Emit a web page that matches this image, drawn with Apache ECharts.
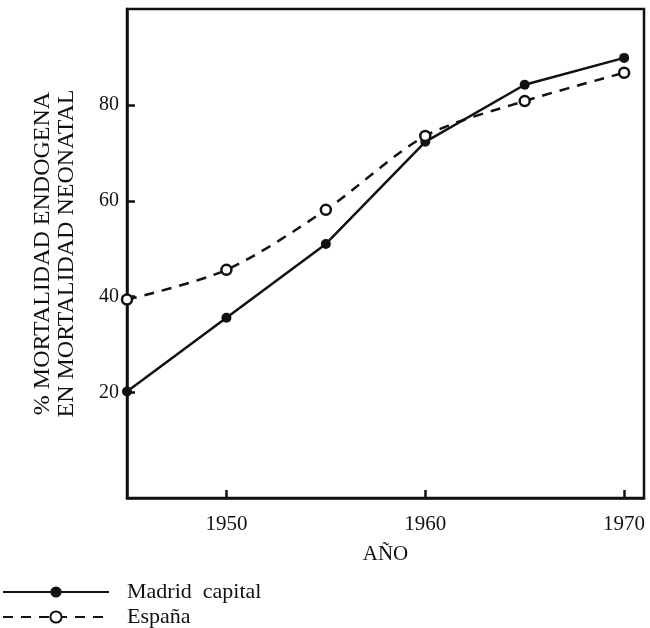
<!DOCTYPE html>
<html lang="es">
<head>
    <meta charset="UTF-8">
    <title>Mortalidad endogena</title>
    <script src="https://cdn.jsdelivr.net/npm/echarts@6.0.0/dist/echarts.min.js"></script>
    <style>
        body { margin: 0; background: #fff; }
    </style>
</head>
<body>
    <div id="main" style="width: 650px;height:628px;"></div>
    <script type="text/javascript">
        const years = [1945, 1950, 1955, 1960, 1965, 1970];
        const madrid = [20.2, 35.6, 51.0, 72.3, 84.2, 89.8];
        const espana = [39.4, 45.6, 58.1, 73.5, 80.8, 86.7];
        const xTicks = [1950, 1960, 1970];
        const yTicks = [20, 40, 60, 80];

        const font = 'Liberation Serif';
        const ink = '#111';

        // one legend box per row so the two rows stay stacked near the bottom edge
        const legendRow = (name, top) => ({
            orient: 'vertical',
            left: 2, top: top, padding: 0,
            itemWidth: 106, itemHeight: 14,
            textStyle: { fontFamily: font, fontSize: 22, lineHeight: 22, color: ink, padding: [0, 0, 0, 13] },
            formatter: (n) => n.replace(' ', '  '),
            data: [name]
        });

        let options = {
            animation: false,
            backgroundColor: '#fff',
            grid: {
                left: 127, top: 9, right: 6, bottom: 130,
                show: true, borderColor: ink, borderWidth: 2.5
            },
            legend: [legendRow('Madrid capital', 581), legendRow('España', 606)],
            xAxis: {
                type: 'value',
                min: 1945, max: 1971,
                name: 'AÑO',
                nameLocation: 'middle',
                nameGap: 46,
                nameTextStyle: { fontFamily: font, fontSize: 21, color: ink },
                splitLine: { show: false },
                axisLine: { onZero: false, lineStyle: { color: ink, width: 2.5 } },
                axisTick: { inside: true, length: 8, lineStyle: { color: ink, width: 2.5 }, customValues: xTicks },
                axisLabel: { fontFamily: font, fontSize: 21, color: ink, margin: 16, customValues: xTicks, formatter: (v) => String(v) }
            },
            yAxis: {
                type: 'value',
                min: -2, max: 100,
                name: '% MORTALIDAD ENDOGENA\nEN MORTALIDAD NEONATAL',
                nameLocation: 'middle',
                nameRotate: 90,
                nameGap: 48,
                nameTextStyle: { fontFamily: font, fontSize: 24, color: ink, lineHeight: 24 },
                splitLine: { show: false },
                axisLine: { onZero: false, lineStyle: { color: ink, width: 2.5 } },
                axisTick: { inside: true, length: 8, lineStyle: { color: ink, width: 2.5 }, customValues: yTicks },
                axisLabel: { fontFamily: font, fontSize: 20, color: ink, margin: 8, customValues: yTicks }
            },
            series: [
                {
                    name: 'Madrid capital',
                    type: 'line',
                    data: years.map((y, i) => [y, madrid[i]]),
                    symbol: 'circle',
                    symbolSize: 10,
                    itemStyle: { color: ink },
                    lineStyle: { color: ink, width: 2.5 }
                },
                {
                    name: 'España',
                    type: 'line',
                    smooth: 0.3,
                    data: years.map((y, i) => [y, espana[i]]),
                    symbol: 'circle',
                    symbolSize: 10,
                    itemStyle: { color: '#fff', borderColor: ink, borderWidth: 2.5 },
                    lineStyle: { color: ink, width: 2.5, type: [10, 8] }
                }
            ]
        };

        let myChart = echarts.init(document.getElementById('main'));
        myChart.setOption(options);
    </script>
</body>
</html>
